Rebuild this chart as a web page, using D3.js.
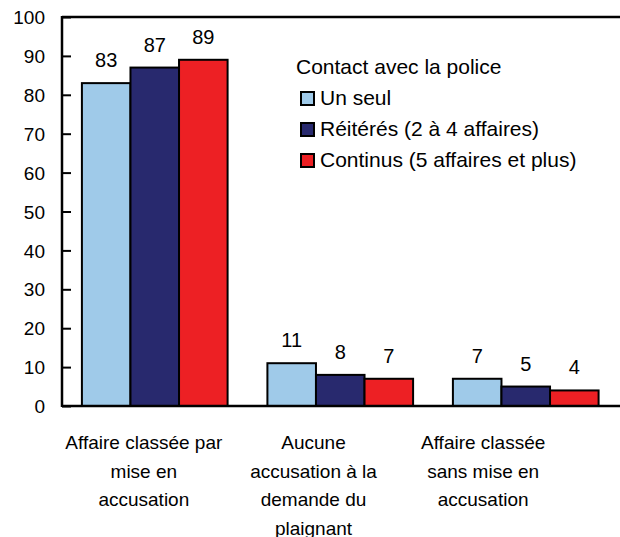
<!DOCTYPE html>
<html>
<head>
<meta charset="utf-8">
<script src="https://cdn.jsdelivr.net/npm/d3@7"></script>
<style>
    body { margin: 0; background: #fff; }
    svg { display: block; font-family: "Liberation Sans", Arial, Helvetica, sans-serif; }
</style>
</head>
<body>
<script>
// Les données
var categories = [
    ["Affaire classée par", "mise en", "accusation"],
    ["Aucune", "accusation à la", "demande du", "plaignant"],
    ["Affaire classée", "sans mise en", "accusation"]
];
var series = ["Un seul", "Réitérés (2 à 4 affaires)", "Continus (5 affaires et plus)"];
var colors = ["#9fcae9", "#28296e", "#ed2024"];
var unSeul = [83, 11, 7];
var reiteres = [87, 8, 5];
var continus = [89, 7, 4];
var valeurs = [unSeul, reiteres, continus];
var yTicks = [0, 10, 20, 30, 40, 50, 60, 70, 80, 90, 100];
var legendTitle = "Contact avec la police";

var width = 620, height = 537;
var margin = { top: 17, right: 0, bottom: 131, left: 62 };

var svg = d3.select("body")
    .append("svg")
    .attr("width", width)
    .attr("height", height);

var groupIdx = categories.map(function(c, i) { return i; });

var x0 = d3.scaleBand()
    .domain(groupIdx)
    .range([margin.left, 618.5]);

var x1 = d3.scaleBand()
    .domain(series)
    .range([0, x0.bandwidth()])
    .paddingOuter(0.41);

// position des libellés de catégories (décalés comme dans l'original)
var xLabel = d3.scaleBand()
    .domain(groupIdx)
    .range([59, 568]);

var y = d3.scaleLinear()
    .domain([0, 100])
    .range([height - margin.bottom, margin.top]);

// Y-as
var yAxis = svg.append("g")
    .attr("transform", "translate(" + margin.left + ",0)")
    .call(d3.axisRight(y).tickValues(yTicks).tickSize(9).tickFormat(d3.format("d")));
yAxis.select(".domain").remove();
yAxis.selectAll(".tick line").attr("stroke", "#000").attr("stroke-width", 2);
yAxis.selectAll(".tick text")
    .attr("x", -17)
    .attr("dy", "0.35em")
    .attr("text-anchor", "end")
    .style("font-size", "19px")
    .style("fill", "#000");

// Barres
var groups = svg.selectAll(".groupe")
    .data(groupIdx)
    .enter()
    .append("g")
    .attr("class", "groupe")
    .attr("transform", function(i) { return "translate(" + x0(i) + ",0)"; });

groups.selectAll("rect")
    .data(function(i) {
        return series.map(function(s, k) { return { serie: s, k: k, v: valeurs[k][i] }; });
    })
    .enter()
    .append("rect")
    .attr("x", function(d) { return x1(d.serie); })
    .attr("y", function(d) { return y(d.v); })
    .attr("width", x1.bandwidth())
    .attr("height", function(d) { return y(0) - y(d.v); })
    .attr("fill", function(d) { return colors[d.k]; })
    .attr("stroke", "#000")
    .attr("stroke-width", 2);

groups.selectAll("text.valeur")
    .data(function(i) {
        return series.map(function(s, k) { return { serie: s, k: k, v: valeurs[k][i] }; });
    })
    .enter()
    .append("text")
    .attr("class", "valeur")
    .attr("x", function(d) { return x1(d.serie) + x1.bandwidth() / 2; })
    .attr("y", function(d) { return y(d.v) - 16; })
    .attr("text-anchor", "middle")
    .style("font-size", "20px")
    .text(function(d) { return d.v; });

// Cadre : gauche, haut, bas
svg.append("line")
    .attr("x1", margin.left).attr("x2", width)
    .attr("y1", y(100)).attr("y2", y(100))
    .attr("stroke", "#000").attr("stroke-width", 2.5);
svg.append("line")
    .attr("x1", margin.left).attr("x2", width)
    .attr("y1", y(0)).attr("y2", y(0))
    .attr("stroke", "#000").attr("stroke-width", 2.5);
svg.append("line")
    .attr("x1", margin.left).attr("x2", margin.left)
    .attr("y1", y(100) - 1).attr("y2", y(0) + 1)
    .attr("stroke", "#000").attr("stroke-width", 2.5);

// Libellés des catégories
var labels = svg.selectAll(".categorie")
    .data(groupIdx)
    .enter()
    .append("text")
    .attr("class", "categorie")
    .attr("text-anchor", "middle")
    .style("font-size", "19px");

labels.selectAll("tspan")
    .data(function(i) { return categories[i].map(function(t) { return { t: t, i: i }; }); })
    .enter()
    .append("tspan")
    .attr("x", function(d) { return xLabel(d.i) + xLabel.bandwidth() / 2; })
    .attr("y", function(d, j) { return 449 + j * 28.5; })
    .text(function(d) { return d.t; });

// Légende
var legend = svg.append("g");
legend.append("text")
    .attr("x", 296)
    .attr("y", 74)
    .style("font-size", "21px")
    .text(legendTitle);

var items = legend.selectAll(".item")
    .data(series)
    .enter()
    .append("g")
    .attr("class", "item")
    .attr("transform", function(d, k) { return "translate(0," + (105 + k * 31) + ")"; });

items.append("rect")
    .attr("x", 301)
    .attr("y", -13)
    .attr("width", 13)
    .attr("height", 13)
    .attr("fill", function(d, k) { return colors[k]; })
    .attr("stroke", "#000")
    .attr("stroke-width", 2);

items.append("text")
    .attr("x", 320)
    .attr("y", 0)
    .style("font-size", "21px")
    .text(function(d) { return d; });
</script>
</body>
</html>
